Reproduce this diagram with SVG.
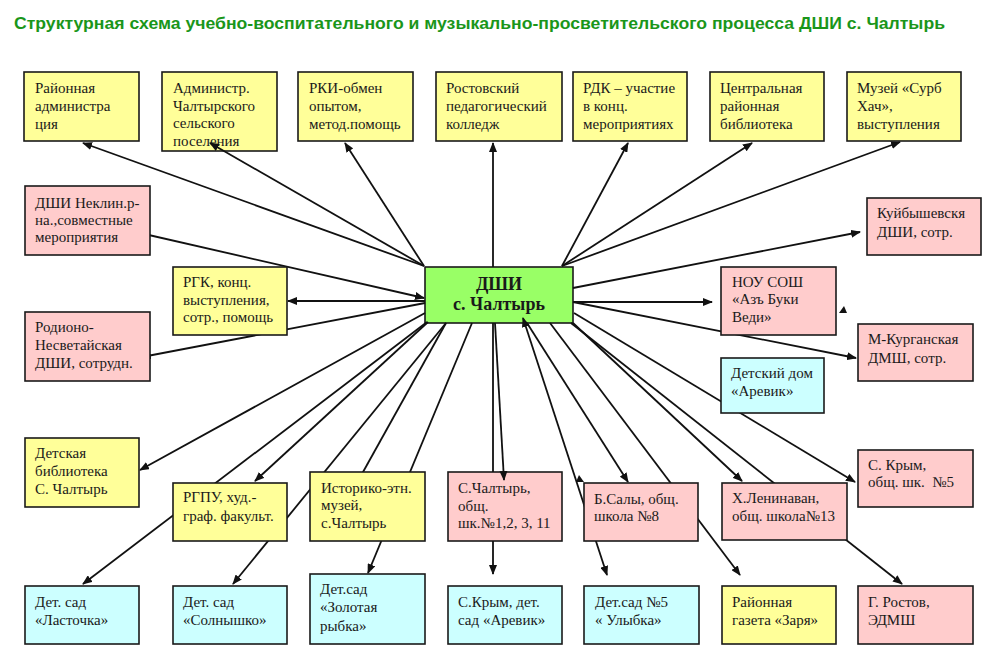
<svg xmlns="http://www.w3.org/2000/svg" width="1000" height="662" viewBox="0 0 1000 662">
<defs>
<style>
.bx{stroke:#1a1a1a;stroke-width:1.6}
.y{fill:#ffff99}.p{fill:#ffcccc}.c{fill:#ccffff}.g{fill:#99ff66}
.t{font-family:"Liberation Serif","Times New Roman",serif;font-size:15px;fill:#1a1a1a}
.ct{font-family:"Liberation Serif","Times New Roman",serif;font-size:18px;font-weight:bold;fill:#1a1a1a;text-anchor:middle}
.ln{stroke:#111;stroke-width:1.8;fill:none;marker-end:url(#ah)}
.ln2{marker-start:url(#ah)}
.ttl{font-family:"Liberation Sans",Arial,sans-serif;font-size:17px;font-weight:bold;fill:#1a961a}
</style>
<marker id="ah" viewBox="0 0 10 8" refX="9" refY="4" markerWidth="10" markerHeight="8" markerUnits="userSpaceOnUse" orient="auto-start-reverse">
<path d="M0,0L10,4L0,8z" fill="#111"/>
</marker>
</defs>
<rect width="1000" height="662" fill="#fff"/>
<text class="ttl" x="14" y="29" textLength="931" lengthAdjust="spacingAndGlyphs">Структурная схема учебно-воспитательного и музыкально-просветительского процесса ДШИ с. Чалтырь</text>

<g id="n-admin-chaltyr"><rect class="bx y" x="162" y="72" width="115" height="79"/><text class="t"><tspan x="173" y="93">Администр.</tspan><tspan x="173" y="110.5">Чалтырского</tspan><tspan x="173" y="128">сельского</tspan><tspan x="173" y="145.5">поселения</tspan></text></g>
<g id="n-center"><rect class="bx g" x="425" y="267" width="148" height="56"/><text class="ct"><tspan x="499" y="290">ДШИ</tspan><tspan x="499" y="310">с. Чалтырь</tspan></text></g>
<g id="n-chaltyr-school"><rect class="bx p" x="448" y="472" width="114" height="69"/><text class="t"><tspan x="458" y="493">С.Чалтырь,</tspan><tspan x="458" y="511">общ.</tspan><tspan x="458" y="528">шк.№1,2, 3, 11</tspan></text></g>

<g id="connectors">
<line class="ln" x1="424" y1="266" x2="83" y2="143"/>
<line class="ln" x1="424" y1="266" x2="210" y2="143"/>
<line class="ln" x1="424" y1="266" x2="345" y2="143"/>
<line class="ln" x1="493" y1="267" x2="493" y2="143"/>
<line class="ln" x1="562" y1="266" x2="628" y2="143"/>
<line class="ln" x1="562" y1="266" x2="752" y2="143"/>
<line class="ln" x1="562" y1="266" x2="900" y2="142"/>
<line class="ln ln2" x1="140" y1="233" x2="424" y2="298"/>
<line class="ln" x1="425" y1="301" x2="288" y2="301"/>
<line class="ln" x1="425" y1="303" x2="142" y2="357"/>
<line class="ln" x1="425" y1="313" x2="140" y2="470"/>
<line class="ln" x1="573" y1="288" x2="860" y2="232"/>
<line class="ln" x1="573" y1="302" x2="712" y2="302"/>
<line class="ln" x1="573" y1="302" x2="856" y2="358"/>
<line class="ln" x1="574" y1="313" x2="855" y2="482"/>
<line class="ln" x1="427" y1="322" x2="83" y2="584"/>
<line class="ln" x1="428" y1="322" x2="255" y2="481"/>
<line class="ln" x1="446" y1="323" x2="233" y2="584"/>
<line class="ln" x1="446" y1="323" x2="358" y2="481"/>
<line class="ln" x1="472" y1="323" x2="368" y2="573"/>
<line class="ln" x1="495" y1="323" x2="504" y2="480"/>
<path class="ln" d="M493,323V472M493,541V574"/>
<line class="ln ln2" x1="523" y1="318" x2="607" y2="575"/>
<line class="ln" x1="527" y1="323" x2="628" y2="482"/>
<line class="ln" x1="550" y1="323" x2="740" y2="575"/>
<line class="ln" x1="573" y1="323" x2="742" y2="481"/>
<line class="ln" x1="571" y1="323" x2="902" y2="584"/>
<polygon points="839,313 847,313 844,306" fill="#111"/>
<polygon points="576,482 584,482 579,475" fill="#111"/>
</g>

<g id="n-raion-admin"><rect class="bx y" x="24" y="72" width="115" height="69"/><text class="t"><tspan x="35" y="93">Районная</tspan><tspan x="35" y="111">администра</tspan><tspan x="35" y="129">ция</tspan></text></g>
<g id="n-rki"><rect class="bx y" x="298" y="72" width="115" height="69"/><text class="t"><tspan x="309" y="93">РКИ-обмен</tspan><tspan x="309" y="111">опытом,</tspan><tspan x="309" y="129">метод.помощь</tspan></text></g>
<g id="n-ped-college"><rect class="bx y" x="436" y="72" width="126" height="69"/><text class="t"><tspan x="446" y="93">Ростовский</tspan><tspan x="446" y="111">педагогический</tspan><tspan x="446" y="129">колледж</tspan></text></g>
<g id="n-rdk"><rect class="bx y" x="573" y="72" width="114" height="69"/><text class="t"><tspan x="583" y="93">РДК – участие</tspan><tspan x="583" y="111">в конц.</tspan><tspan x="583" y="129">мероприятиях</tspan></text></g>
<g id="n-central-lib"><rect class="bx y" x="710" y="72" width="114" height="69"/><text class="t"><tspan x="720" y="93">Центральная</tspan><tspan x="720" y="111">районная</tspan><tspan x="720" y="129">библиотека</tspan></text></g>
<g id="n-museum-surb"><rect class="bx y" x="847" y="72" width="114" height="69"/><text class="t"><tspan x="857" y="93">Музей «Сурб</tspan><tspan x="857" y="111">Хач»,</tspan><tspan x="857" y="129">выступления</tspan></text></g>
<g id="n-neklin"><rect class="bx p" x="25" y="186" width="125" height="69"/><text class="t"><tspan x="35" y="208">ДШИ Неклин.р-</tspan><tspan x="35" y="225">на.,совместные</tspan><tspan x="35" y="242">мероприятия</tspan></text></g>
<g id="n-rgk"><rect class="bx y" x="173" y="267" width="114" height="68"/><text class="t"><tspan x="183" y="287">РГК, конц.</tspan><tspan x="183" y="305">выступления,</tspan><tspan x="183" y="322">сотр., помощь</tspan></text></g>
<g id="n-rodiono"><rect class="bx p" x="25" y="312" width="125" height="69"/><text class="t"><tspan x="35" y="332">Родионо-</tspan><tspan x="35" y="350">Несветайская</tspan><tspan x="35" y="368">ДШИ, сотрудн.</tspan></text></g>
<g id="n-kuibyshev"><rect class="bx p" x="867" y="198" width="114" height="57"/><text class="t"><tspan x="877" y="218">Куйбышевскя</tspan><tspan x="877" y="237">ДШИ, сотр.</tspan></text></g>
<g id="n-nou"><rect class="bx p" x="721" y="267" width="115" height="68"/><text class="t"><tspan x="732" y="287">НОУ СОШ</tspan><tspan x="732" y="304">«Азъ Буки</tspan><tspan x="732" y="322">Веди»</tspan></text></g>
<g id="n-mkurgan"><rect class="bx p" x="858" y="324" width="115" height="57"/><text class="t"><tspan x="868" y="344">М-Курганская</tspan><tspan x="868" y="363">ДМШ, сотр.</tspan></text></g>
<g id="n-orphanage"><rect class="bx c" x="721" y="358" width="103" height="55"/><text class="t"><tspan x="731" y="378">Детский дом</tspan><tspan x="731" y="396">«Аревик»</tspan></text></g>
<g id="n-child-lib"><rect class="bx y" x="25" y="438" width="114" height="69"/><text class="t"><tspan x="35" y="458">Детская</tspan><tspan x="35" y="476">библиотека</tspan><tspan x="35" y="494">С. Чалтырь</tspan></text></g>
<g id="n-rgpu"><rect class="bx y" x="173" y="483" width="114" height="58"/><text class="t"><tspan x="183" y="502">РГПУ, худ.-</tspan><tspan x="183" y="521">граф. факульт.</tspan></text></g>
<g id="n-ethno-museum"><rect class="bx y" x="310" y="472" width="115" height="69"/><text class="t"><tspan x="321" y="493">Историко-этн.</tspan><tspan x="321" y="510">музей,</tspan><tspan x="321" y="528">с.Чалтырь</tspan></text></g>
<g id="n-bsaly"><rect class="bx p" x="584" y="483" width="114" height="58"/><text class="t"><tspan x="594" y="504">Б.Салы, общ.</tspan><tspan x="594" y="521">школа №8</tspan></text></g>
<g id="n-leninavan"><rect class="bx p" x="722" y="483" width="125" height="57"/><text class="t"><tspan x="732" y="503">Х.Ленинаван,</tspan><tspan x="732" y="521">общ. школа№13</tspan></text></g>
<g id="n-krym-school"><rect class="bx p" x="858" y="450" width="115" height="57"/><text class="t" xml:space="preserve"><tspan x="868" y="470">С. Крым,</tspan><tspan x="868" y="487">общ. шк.  №5</tspan></text></g>
<g id="n-lastochka"><rect class="bx c" x="25" y="586" width="114" height="58"/><text class="t"><tspan x="35" y="607">Дет. сад</tspan><tspan x="35" y="625">«Ласточка»</tspan></text></g>
<g id="n-solnyshko"><rect class="bx c" x="173" y="586" width="114" height="58"/><text class="t"><tspan x="183" y="607">Дет. сад</tspan><tspan x="183" y="625">«Солнышко»</tspan></text></g>
<g id="n-zolotaya"><rect class="bx c" x="310" y="574" width="115" height="70"/><text class="t"><tspan x="320" y="594">Дет.сад</tspan><tspan x="320" y="612">«Золотая</tspan><tspan x="320" y="631">рыбка»</tspan></text></g>
<g id="n-krym-sad"><rect class="bx c" x="448" y="586" width="114" height="58"/><text class="t"><tspan x="458" y="607">С.Крым, дет.</tspan><tspan x="458" y="625">сад «Аревик»</tspan></text></g>
<g id="n-ulybka"><rect class="bx c" x="584" y="586" width="115" height="58"/><text class="t"><tspan x="595" y="607">Дет.сад №5</tspan><tspan x="595" y="625">« Улыбка»</tspan></text></g>
<g id="n-gazeta"><rect class="bx y" x="722" y="586" width="114" height="58"/><text class="t"><tspan x="732" y="607">Районная</tspan><tspan x="732" y="625">газета «Заря»</tspan></text></g>
<g id="n-rostov-edmsh"><rect class="bx p" x="858" y="586" width="115" height="58"/><text class="t"><tspan x="868" y="607">Г. Ростов,</tspan><tspan x="868" y="625">ЭДМШ</tspan></text></g>
</svg>
